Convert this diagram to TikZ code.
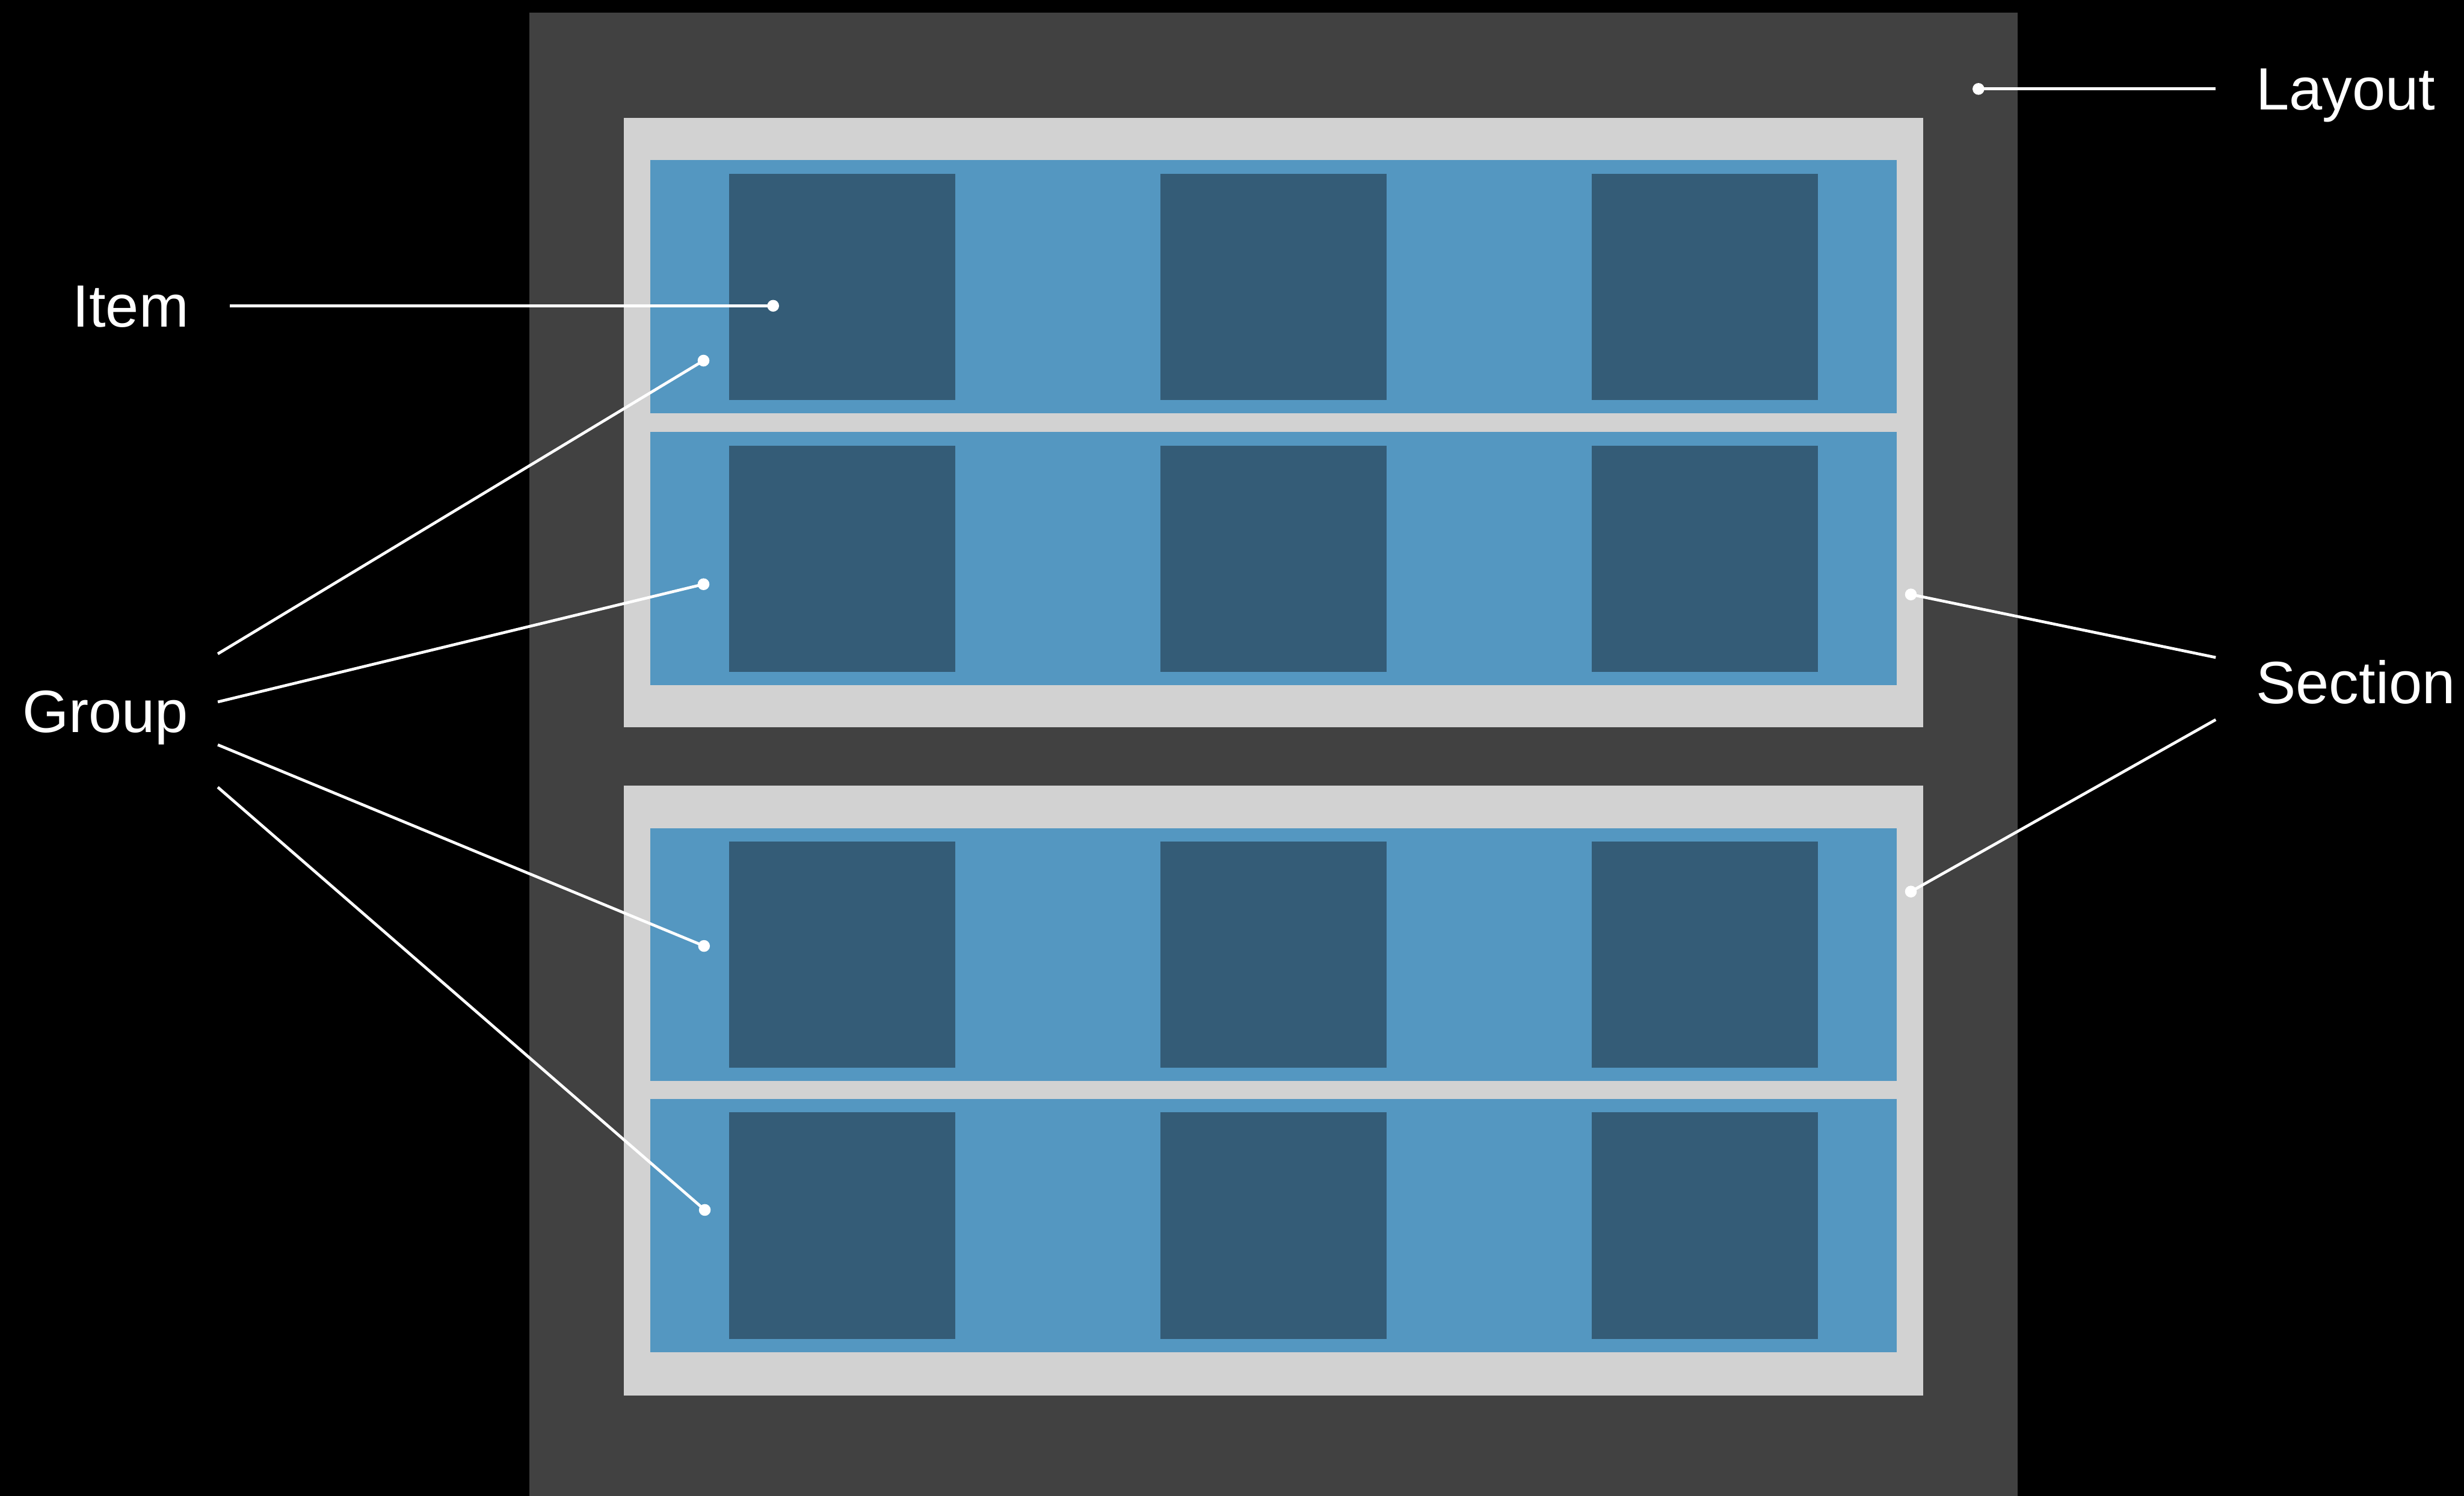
\documentclass[tikz,border=0pt]{standalone}
\usepackage{fontspec}
\setmainfont{Liberation Sans}
\definecolor{layoutgray}{HTML}{414141}
\definecolor{sectiongray}{HTML}{D2D2D2}
\definecolor{groupblue}{HTML}{5497C1}
\definecolor{itemblue}{HTML}{345C77}
\begin{document}
\begin{tikzpicture}[x=1pt,y=-1pt,
  box/.style={rectangle, inner sep=0pt, outer sep=0pt, draw=none, anchor=north west},
  layoutbox/.style={box, fill=layoutgray, minimum width=947pt, minimum height=944pt},
  sectionbox/.style={box, fill=sectiongray, minimum width=827pt, minimum height=388pt},
  groupbox/.style={box, fill=groupblue, minimum width=793pt, minimum height=161pt},
  itembox/.style={rectangle, inner sep=0pt, outer sep=0pt, draw=none, fill=itemblue, minimum size=144pt},
  lbl/.style={text=white, font=\fontsize{38}{46}\selectfont, inner sep=0pt, anchor=base west},
  leader/.style={draw=white, line width=1.8pt},
  dot/.style={fill=white, draw=none, circle, inner sep=0pt, minimum size=7.5pt}
]
\useasboundingbox (0,0) rectangle (1568,952);
\fill[black] (0,0) rectangle (1568,952);

% layout
\node[layoutbox] (layout) at (337,8) {};

% sections
\node[sectionbox] (sec1) at (397,75) {};
\node[sectionbox] (sec2) at (397,500) {};

% groups
\node[groupbox] (g1) at (414,102) {};
\node[groupbox] (g2) at (414,275) {};
\node[groupbox] (g3) at (414,527) {};
\node[groupbox] (g4) at (414,699.5) {};

% items
\foreach \r/\cy in {1/182.5, 2/355.5, 3/607.5, 4/780} {
  \foreach \c/\cx in {1/536, 2/810.5, 3/1085} {
    \node[itembox] (i\r\c) at (\cx,\cy) {};
  }
}

% labels
\node[lbl] (layoutlabel) at (1435.5,69.9) {Layout};
\node[lbl] (itemlabel) at (46,208) {Item};
\node[lbl] (grouplabel) at (14,466) {Group};
\node[lbl] (sectionlabel) at (1435.5,447.8) {Section};

% leader end points
\coordinate (layoutA) at (1410,56.6);
\coordinate (itemA) at (146.4,194.6);
\coordinate (groupA1) at (138.6,416.1);
\coordinate (groupA2) at (138.6,446.7);
\coordinate (groupA3) at (138.6,474);
\coordinate (groupA4) at (138.6,501);
\coordinate (sectionA1) at (1410,418.4);
\coordinate (sectionA2) at (1410,458);

\coordinate (layoutB) at (1259,56.6);
\coordinate (itemB) at (492,194.6);
\coordinate (groupB1) at (447.7,229.5);
\coordinate (groupB2) at (447.7,371.8);
\coordinate (groupB3) at (448,602);
\coordinate (groupB4) at (448.5,770);
\coordinate (sectionB1) at (1216,378.3);
\coordinate (sectionB2) at (1216,567.4);

% leaders
\draw[leader] (layoutA) -- (layoutB);
\draw[leader] (itemA) -- (itemB);
\draw[leader] (groupA1) -- (groupB1);
\draw[leader] (groupA2) -- (groupB2);
\draw[leader] (groupA3) -- (groupB3);
\draw[leader] (groupA4) -- (groupB4);
\draw[leader] (sectionA1) -- (sectionB1);
\draw[leader] (sectionA2) -- (sectionB2);

% dots
\node[dot] (layoutdot) at (layoutB) {};
\node[dot] (itemdot) at (itemB) {};
\node[dot] (groupdot1) at (groupB1) {};
\node[dot] (groupdot2) at (groupB2) {};
\node[dot] (groupdot3) at (groupB3) {};
\node[dot] (groupdot4) at (groupB4) {};
\node[dot] (sectiondot1) at (sectionB1) {};
\node[dot] (sectiondot2) at (sectionB2) {};
\end{tikzpicture}
\end{document}
